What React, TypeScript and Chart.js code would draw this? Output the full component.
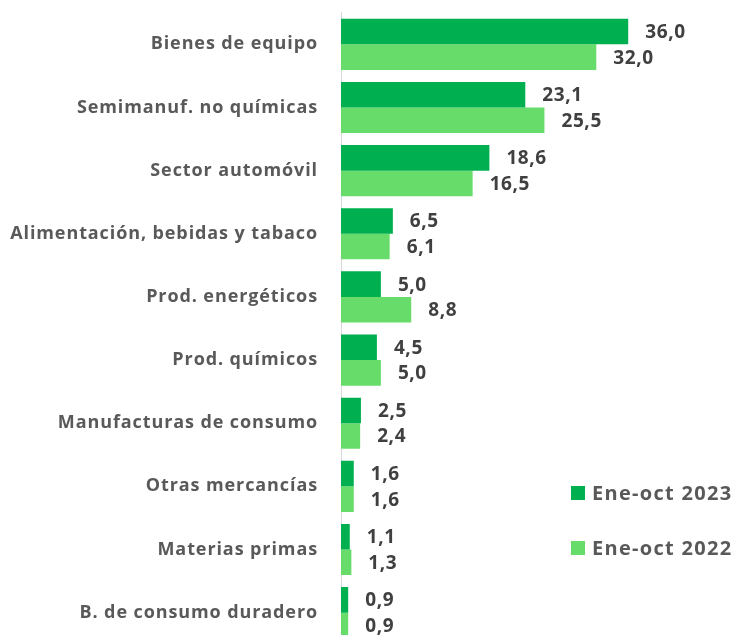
import React, { useEffect, useRef } from "react";
import { Chart, registerables } from "chart.js";

Chart.register(...registerables);

const categories = [
  "Bienes de equipo",
  "Semimanuf. no químicas",
  "Sector automóvil",
  "Alimentación, bebidas y tabaco",
  "Prod. energéticos",
  "Prod. químicos",
  "Manufacturas de consumo",
  "Otras mercancías",
  "Materias primas",
  "B. de consumo duradero",
];
const series2023 = [36.0, 23.1, 18.6, 6.5, 5.0, 4.5, 2.5, 1.6, 1.1, 0.9];
const series2022 = [32.0, 25.5, 16.5, 6.1, 8.8, 5.0, 2.4, 1.6, 1.3, 0.9];
const seriesLabels = ["Ene-oct 2023", "Ene-oct 2022"];
const seriesColors = ["#00B050", "#68DC6A"];

const FONT = "'Open Sans', 'Noto Sans', sans-serif";
const SHIFT = 13;

const spacing = {
  id: "spacing",
  beforeDraw(chart: any) {
    chart.ctx.letterSpacing = "0.9px";
  },
};

const valueLabels = {
  id: "valueLabels",
  afterDatasetsDraw(chart: any) {
    const ctx = chart.ctx;
    ctx.save();
    ctx.letterSpacing = "0.6px";
    ctx.font = `bold 19px ${FONT}`;
    ctx.fillStyle = "#404040";
    ctx.textAlign = "left";
    ctx.textBaseline = "middle";
    chart.data.datasets.forEach((ds: any, i: number) => {
      const meta = chart.getDatasetMeta(i);
      meta.data.forEach((el: any, j: number) => {
        const v = ds.data[j];
        ctx.fillText(v.toFixed(1).replace(".", ","), el.x + 17, el.y + 1);
      });
    });
    ctx.restore();
  },
};

const customLegend = {
  id: "customLegend",
  afterDraw(chart: any) {
    const ctx = chart.ctx;
    ctx.save();
    ctx.letterSpacing = "1.3px";
    ctx.font = `bold 20px ${FONT}`;
    ctx.textAlign = "left";
    ctx.textBaseline = "middle";
    const ys = [493 + SHIFT, 548 + SHIFT];
    chart.data.datasets.forEach((ds: any, i: number) => {
      ctx.fillStyle = ds.backgroundColor;
      ctx.fillRect(571, ys[i] - 7, 14, 14);
      ctx.fillStyle = "#595959";
      ctx.fillText(ds.label, 592, ys[i] + 1);
    });
    ctx.restore();
  },
};

export default function App() {
  const ref = useRef<HTMLCanvasElement>(null);
  useEffect(() => {
    if (!ref.current) return;
    const chart = new Chart(ref.current, {
      type: "bar",
      data: {
        labels: categories,
        datasets: [
          { label: seriesLabels[0], data: series2023, backgroundColor: seriesColors[0] },
          { label: seriesLabels[1], data: series2022, backgroundColor: seriesColors[1] },
        ],
      },
      options: {
        indexAxis: "y",
        animation: false,
        responsive: false,
        maintainAspectRatio: false,
        layout: { padding: { top: 0, bottom: 0, left: 0, right: 35 } },
        datasets: { bar: { categoryPercentage: 0.81, barPercentage: 1 } },
        plugins: { legend: { display: false }, tooltip: { enabled: false } },
        scales: {
          x: { display: false, min: 0, max: 45 },
          y: {
            grid: { display: false },
            border: { display: true, color: "#D9D9D9", width: 1 },
            ticks: {
              padding: 15,
              color: "#595959",
              font: { family: FONT, size: 18, weight: "bold" },
            },
            afterFit(scale: any) {
              scale.width = 341;
            },
          },
        },
      },
      plugins: [spacing, valueLabels, customLegend],
    });
    return () => chart.destroy();
  }, []);
  return (
    <div style={{ position: "fixed", left: 0, top: -SHIFT, width: 735, height: 683 }}>
      <canvas ref={ref} width={735} height={683} style={{ width: 735, height: 683 }} />
    </div>
  );
}
